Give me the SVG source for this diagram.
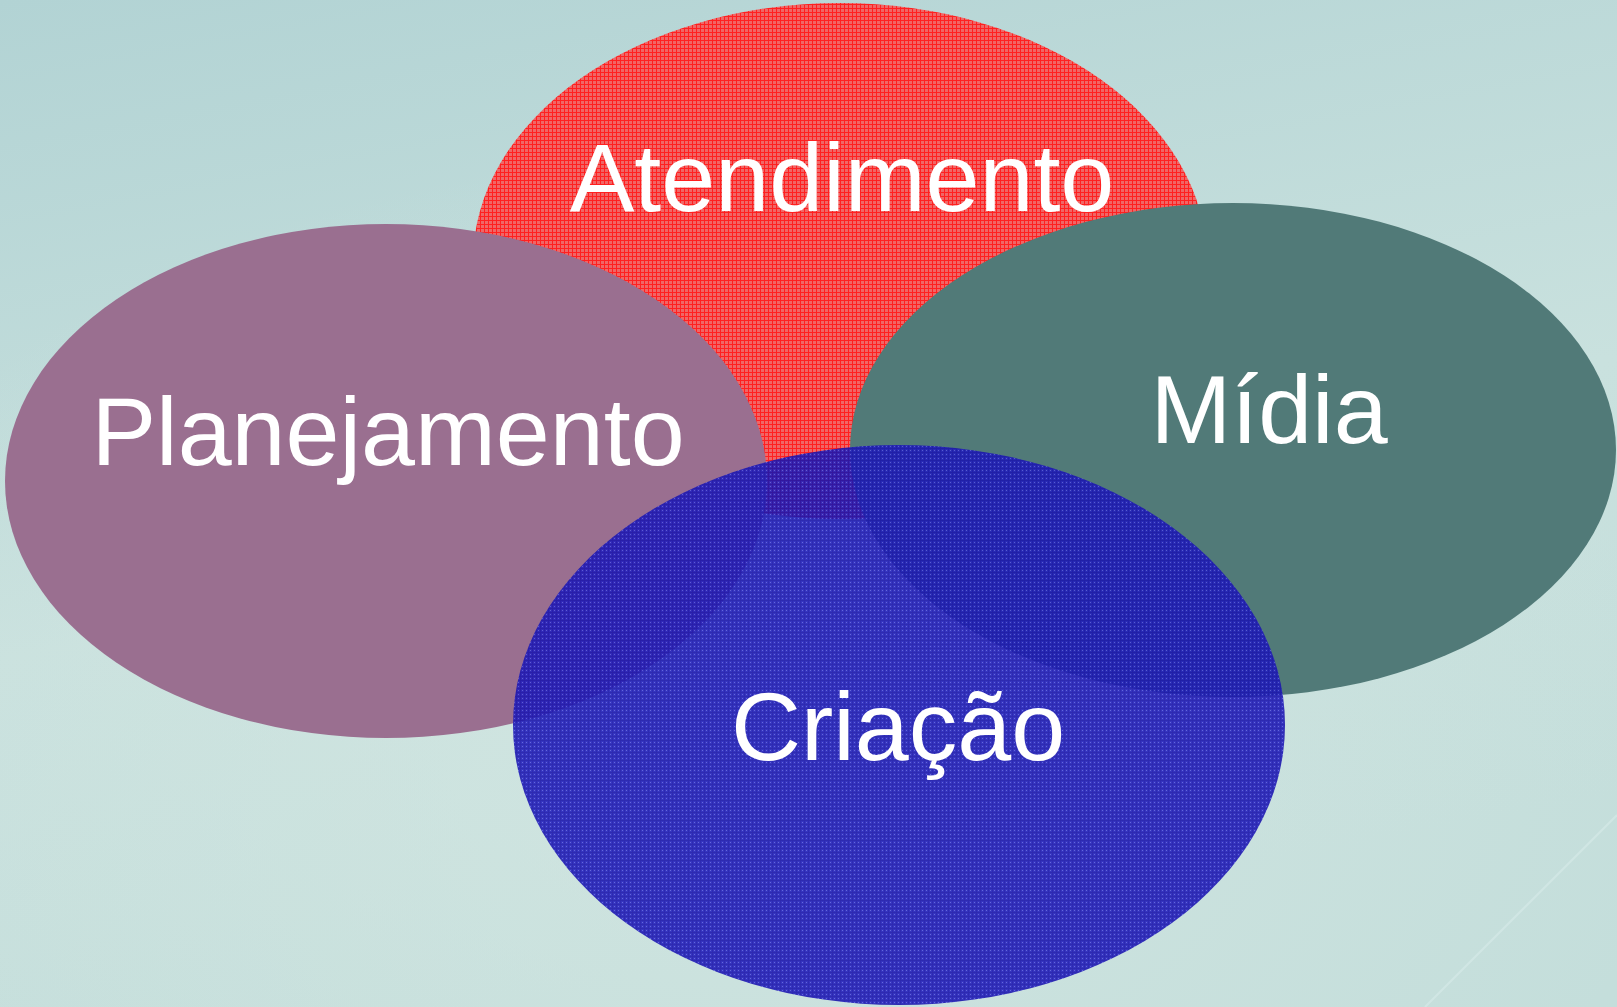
<svg xmlns="http://www.w3.org/2000/svg" width="1617" height="1007" viewBox="0 0 1617 1007">
  <defs>
    <linearGradient id="bg" x1="0" y1="0" x2="0.3" y2="1">
      <stop offset="0" stop-color="#b2d3d4"/>
      <stop offset="0.6" stop-color="#c9e1de"/>
      <stop offset="1" stop-color="#c4dedb"/>
    </linearGradient>
    <radialGradient id="glow" cx="0.45" cy="0.75" r="0.6">
      <stop offset="0" stop-color="#d4e7e2" stop-opacity="0.7"/>
      <stop offset="1" stop-color="#d4e7e2" stop-opacity="0"/>
    </radialGradient>
    <pattern id="redpat" width="4" height="4" patternUnits="userSpaceOnUse">
      <rect width="4" height="4" fill="#f06666"/>
      <rect width="4" height="1" fill="#ff2020"/>
      <rect width="1" height="4" fill="#ff2020"/>
    </pattern>
    <pattern id="bluepat" width="4" height="4" patternUnits="userSpaceOnUse">
      <rect width="4" height="4" fill="#2420bc"/>
      <rect x="2" y="2" width="1" height="1" fill="#5a5ad8"/>
      <rect width="4" height="1" fill="#1c16ac"/>
      <rect width="1" height="4" fill="#1c16ac"/>
    </pattern>
  </defs>
  <style>
    .lbl { font-family: "Liberation Sans", Arial, sans-serif; fill: #ffffff; text-anchor: middle; font-size: 97px; }
  </style>
  <rect width="1617" height="1007" fill="url(#bg)"/>
  <rect width="1617" height="1007" fill="url(#glow)"/>
  <line x1="1617" y1="815" x2="1425" y2="1007" stroke="#d8ecea" stroke-width="2" opacity="0.6"/>

  <g id="connectors"></g>

  <g id="atendimento">
    <ellipse cx="840" cy="261" rx="367" ry="258" fill="url(#redpat)"/>
    <text class="lbl" x="842" y="211">Atendimento</text>
  </g>
  <g id="planejamento">
    <ellipse cx="386" cy="481" rx="381" ry="257" fill="#9a6f90"/>
    <text class="lbl" x="388" y="465">Planejamento</text>
  </g>
  <g id="midia">
    <ellipse cx="1233" cy="450" rx="383" ry="247" fill="#517a78"/>
    <text class="lbl" x="1269" y="443">Mídia</text>
  </g>
  <g id="criacao">
    <ellipse cx="899" cy="725" rx="386" ry="280" fill="url(#bluepat)" opacity="0.9"/>
    <text class="lbl" x="898" y="760">Criação</text>
  </g>
</svg>
